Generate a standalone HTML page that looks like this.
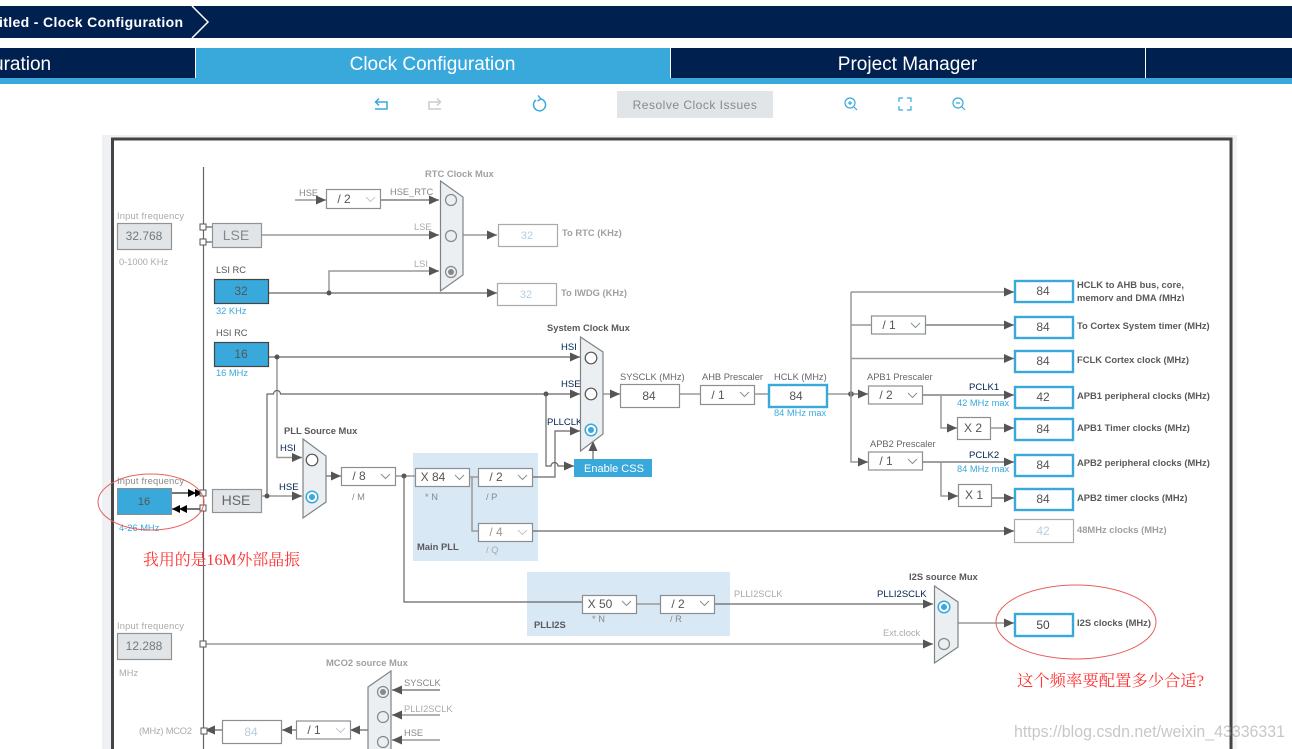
<!DOCTYPE html>
<html><head><meta charset="utf-8"><style>
html,body{margin:0;padding:0;background:#fff;width:1292px;height:749px;overflow:hidden}
svg{display:block;font-family:"Liberation Sans",sans-serif}
.l{fill:none;stroke:#666;stroke-width:1.2}
.g{fill:none;stroke:#999;stroke-width:1.5}
.a{marker-end:url(#ar)}
.box{fill:#fff;stroke:#8a8f93;stroke-width:1.2}
.bb{fill:#fff;stroke:#39a9dc;stroke-width:2.4}
.gb{fill:#fff;stroke:#aaa;stroke-width:1.2}
.mux{fill:#ebeff2;stroke:#7d8488;stroke-width:1.2}
.gr{fill:#e2e5e8;stroke:#8f9496;stroke-width:1.2}
.blue{fill:#39a9dc;stroke:#444;stroke-width:1.2}
.c{fill:#fff;stroke:#555;stroke-width:1.2}
.cg{fill:#ebeff2;stroke:#888;stroke-width:1.2}
.cb{fill:#fff;stroke:#39a9dc;stroke-width:1.5}
.sq{fill:#fff;stroke:#555;stroke-width:1}
.dot{fill:#555}
text{fill:#555;font-size:10px}
.t{font-size:12px;text-anchor:middle;fill:#555}
.tg{font-size:12px;text-anchor:middle;fill:#777}
.tl{font-size:11px;text-anchor:middle;fill:#b5cde2}
.b{font-weight:bold;fill:#59595b;font-size:9.4px}
.bg{font-weight:bold;fill:#a0a0a0;font-size:9.4px}
.s{fill:#888;font-size:9.3px}
.sl{fill:#aaa;font-size:9.3px}
.n{fill:#00214f;font-size:9.5px}
.u{fill:#39a9dc;font-size:9.3px}
.r{fill:#f33;font-size:16px;font-family:"Liberation Serif","Noto Serif CJK SC",serif}
</style></head><body>
<svg width="1292" height="749" viewBox="0 0 1292 749" xmlns="http://www.w3.org/2000/svg">
<defs>
<marker id="ar" markerUnits="userSpaceOnUse" markerWidth="11" markerHeight="9" refX="10" refY="4.5" orient="auto"><path d="M0 0L10 4.5L0 9Z" fill="#555"/></marker>
<path id="chev" d="M0 0L4.5 4.5L9 0" fill="none" stroke="#8a8f93" stroke-width="1"/>
<path id="chevl" d="M0 0L4.5 4.5L9 0" fill="none" stroke="#c5c9cc" stroke-width="1"/>
<clipPath id="clipm"><rect x="1075" y="280" width="120" height="21"/></clipPath>
</defs>

<!-- top bars -->
<rect x="0" y="6" width="1292" height="32" fill="#00214f"/>
<path d="M192 6L208 22L192 38" fill="none" stroke="#fff" stroke-width="1.5"/>
<text x="-1" y="27" style="fill:#fff;font-size:14px;font-weight:bold;letter-spacing:.35px">itled - Clock Configuration</text>
<rect x="0" y="48" width="1292" height="31" fill="#00214f"/>
<rect x="196" y="48" width="474" height="31" fill="#39a9dc"/>
<rect x="195" y="48" width="1" height="31" fill="#fff"/>
<rect x="670" y="48" width="1" height="31" fill="#fff"/>
<rect x="1145" y="48" width="1" height="31" fill="#fff"/>
<rect x="0" y="78" width="1292" height="6" fill="#39a9dc"/>
<text x="-7" y="70" style="fill:#fff;font-size:19px">uration</text>
<text x="432.500" y="70" style="fill:#fff;font-size:19px;text-anchor:middle">Clock Configuration</text>
<text x="907.500" y="70" style="fill:#fff;font-size:19px;text-anchor:middle">Project Manager</text>

<!-- toolbar -->
<path d="M375 109H387V102H376M379 98.500L375.500 102L379 105.500" fill="none" stroke="#39a9dc" stroke-width="1.5"/>
<path d="M441 109H429V102H440M437 98.500L440.500 102L437 105.500" fill="none" stroke="#ccc" stroke-width="1.5"/>
<path d="M536 100A6 6 0 1 0 541 99M538 95.500L541 99L537.500 101" fill="none" stroke="#39a9dc" stroke-width="1.5"/>
<rect x="617" y="91" width="156" height="27" fill="#e2e5e8"/>
<text x="695" y="109" style="fill:#888;font-size:12px;text-anchor:middle;letter-spacing:.5px">Resolve Clock Issues</text>
<circle cx="850" cy="103" r="5" fill="none" stroke="#39a9dc" stroke-width="1.2"/><path d="M854 107L857 110M848 103H852M850 101V105" stroke="#39a9dc" stroke-width="1.2"/>
<path d="M899 102V98H903M907 98H911V102M911 106V110H907M903 110H899V106" fill="none" stroke="#39a9dc" stroke-width="1.2"/>
<circle cx="958" cy="103" r="5" fill="none" stroke="#39a9dc" stroke-width="1.2"/><path d="M962 107L965 110M956 103H960" stroke="#39a9dc" stroke-width="1.2"/>

<!-- panel -->
<rect x="102" y="135" width="1135" height="614" fill="#eef0f3"/>
<rect x="112.500" y="139" width="1118.500" height="620" fill="#fff" stroke="#444" stroke-width="3"/>
<rect x="1233" y="141" width="4" height="608" fill="#f4f5f7"/>

<!-- blue backgrounds -->
<rect x="413" y="453" width="125" height="108" fill="#d9e8f5"/>
<rect x="527" y="572" width="203" height="64" fill="#d9e8f5"/>

<!-- vertical rail -->
<path d="M203.500 167V749" class="l"/>

<!-- wires: RTC -->
<path d="M295 200H326" class="g a"/>
<path d="M381 200H439" class="l a"/>
<path d="M262 235H439" class="g a"/>
<path d="M329 293V271H439" class="g a"/>
<path d="M269 293H497" class="l a"/>
<path d="M463 235H497" class="g a"/>
<circle cx="329" cy="293" r="2.500" class="dot"/>
<path d="M203 227H212M203 242H212" class="l"/>

<!-- wires: HSI/HSE -->
<path d="M269 357H580" class="l a"/>
<path d="M277 357V391" class="g"/>
<path d="M277 398V457.500H302" class="g a"/>
<path d="M267 496V394H273.500A3.500 3.500 0 0 1 280.500 394H580" class="l a"/>
<path d="M277 391V398" class="g"/>
<circle cx="277" cy="357" r="2.500" class="dot"/>
<circle cx="546" cy="394" r="2.500" class="dot"/>
<path d="M262 496H302" class="g a"/>
<circle cx="267" cy="496" r="2.500" class="dot"/>
<path d="M546 394V466H551A3.500 3.500 0 0 1 558 466H574" class="l a"/>
<path d="M532 477H555V431H580" class="l a"/>
<path d="M593 459V441" class="l a"/>

<!-- wires: PLL -->
<path d="M326 476H341" class="l a"/>
<path d="M395 476H415" class="g"/>
<circle cx="404" cy="476" r="2.500" class="dot"/>
<path d="M469 477H478" class="g"/>
<path d="M472 477V531H478" class="g"/>
<path d="M532 531H1014" class="l a"/>
<path d="M404 476V602H582" class="l"/>
<path d="M637 604H660" class="g"/>
<path d="M715 604H933" class="l a"/>
<path d="M203 644H933" class="g a"/>
<path d="M958 623H1014" class="g a"/>

<!-- wires: sys -->
<path d="M603 394H620" class="g a"/>
<path d="M679 394H701M754 394H768M826 394H851" class="g"/>
<circle cx="851" cy="394" r="2.800" class="dot"/>
<path d="M851 394H868" class="l a"/>
<path d="M851 292V462H868" class="g a"/>
<path d="M851 292H1014" class="g a"/>
<path d="M851 325H871" class="g"/>
<path d="M925 325H1014" class="l a"/>
<path d="M851 358.500H1014" class="g a"/>
<path d="M922 395H1014" class="l a"/>
<path d="M941 395V428H957" class="g a"/>
<path d="M990 428H1014" class="g a"/>
<path d="M922 462H1014" class="l a"/>
<path d="M941 462V496H958" class="g a"/>
<path d="M991 498H1014" class="l a"/>

<!-- wires: MCO2 -->
<path d="M440 690H392" class="l a"/>
<path d="M440 715H392" class="g a"/>
<path d="M440 740H392" class="g a"/>
<path d="M368 730H350" class="l a"/>
<path d="M296 730H282" class="l a"/>
<path d="M222 730H205" class="l a"/>
<path d="M215 730H205" class="l a"/>

<!-- black double arrows -->
<path d="M172 493H201M172 509H201" stroke="#222" stroke-width="1.2" fill="none"/>
<path d="M188 489L196 493L188 497ZM195 489L203 493L195 497ZM172 509L180 505V513ZM179 509L187 505V513Z" fill="#000"/>

<!-- squares -->
<rect x="200" y="224" width="6" height="6" class="sq"/>
<rect x="200" y="239" width="6" height="6" class="sq"/>
<rect x="200" y="490" width="6" height="6" class="sq"/>
<rect x="200" y="505" width="6" height="6" class="sq"/>
<rect x="200" y="641" width="6" height="6" class="sq"/>
<rect x="201" y="728" width="6" height="6" class="sq"/>

<!-- left source blocks -->
<text x="117" y="219" class="sl" textLength="67">Input frequency</text>
<rect x="117.500" y="223.500" width="54" height="26" class="gr"/>
<text x="144" y="240" class="tg">32.768</text>
<text x="119" y="265" class="sl">0-1000 KHz</text>
<rect x="212.500" y="223.500" width="49" height="24" class="gr"/>
<text x="236" y="240" style="font-size:14px;text-anchor:middle;fill:#888">LSE</text>
<text x="216" y="273" class="s" style="fill:#555">LSI RC</text>
<rect x="214.500" y="279.500" width="54" height="24" class="blue"/>
<text x="241" y="295" class="t">32</text>
<text x="216" y="314" class="u">32 KHz</text>
<text x="216" y="336" class="s" style="fill:#555">HSI RC</text>
<rect x="214.500" y="342.500" width="54" height="24" class="blue"/>
<text x="241" y="358" class="t">16</text>
<text x="216" y="376" class="u">16 MHz</text>
<text x="117" y="484" class="s" textLength="67">Input frequency</text>
<rect x="117.500" y="488.500" width="54" height="26" fill="#39a9dc" stroke="#8a8f93"/>
<text x="144" y="505" style="font-size:11px;text-anchor:middle;fill:#555">16</text>
<text x="119" y="531" class="u">4-26 MHz</text>
<rect x="212.500" y="489.500" width="49" height="23" class="gr"/>
<text x="236" y="505" style="font-size:14px;text-anchor:middle;fill:#666">HSE</text>
<text x="117" y="629" class="sl" textLength="67">Input frequency</text>
<rect x="117.500" y="633.500" width="54" height="26" class="gr"/>
<text x="144" y="650" class="tg">12.288</text>
<text x="119" y="676" class="sl">MHz</text>

<!-- RTC -->
<text x="425" y="177" class="bg">RTC Clock Mux</text>
<text x="299" y="196" class="s">HSE</text>
<rect x="326.500" y="189.500" width="54" height="19" class="box"/>
<text x="344" y="203" class="t">/ 2</text>
<use href="#chevl" x="366" y="197"/>
<text x="390" y="195" class="s">HSE_RTC</text>
<text x="414" y="230" class="sl">LSE</text>
<text x="414" y="267" class="sl">LSI</text>
<polygon points="440.500,181 463,197 463,275 440.500,291" class="mux"/>
<circle cx="451" cy="200" r="5.500" class="cg"/>
<circle cx="451" cy="236" r="5.500" class="cg"/>
<circle cx="451" cy="272" r="5.500" class="cg"/><circle cx="451" cy="272" r="3" fill="#888"/>
<rect x="498.500" y="224.500" width="59" height="22" class="gb"/>
<text x="527" y="239" class="tl">32</text>
<text x="562" y="236" class="bg">To RTC (KHz)</text>
<rect x="497.500" y="283.500" width="59" height="22" class="gb"/>
<text x="526" y="298" class="tl">32</text>
<text x="561" y="296" class="bg">To IWDG (KHz)</text>

<!-- PLL source -->
<text x="284" y="434" class="b">PLL  Source Mux</text>
<text x="280" y="451" class="n">HSI</text>
<text x="279" y="490" class="n">HSE</text>
<polygon points="303,439 326,456 326,502 303,518" class="mux"/>
<circle cx="312" cy="460" r="5.800" class="c"/>
<circle cx="312" cy="497" r="5.800" class="cb"/><circle cx="312" cy="497" r="3" fill="#39a9dc"/>
<rect x="341.500" y="467.500" width="54" height="18" class="box"/>
<text x="359" y="480" class="t">/ 8</text>
<use href="#chev" x="381" y="474"/>
<text x="352" y="500" class="s">/ M</text>

<!-- Main PLL -->
<rect x="415.500" y="468.500" width="54" height="18" class="box"/>
<text x="433" y="481" class="t">X 84</text>
<use href="#chev" x="455" y="475"/>
<text x="425" y="500" class="s">* N</text>
<rect x="478.500" y="468.500" width="54" height="18" class="box"/>
<text x="496" y="481" class="t">/ 2</text>
<use href="#chev" x="518" y="475"/>
<text x="486" y="500" class="s">/ P</text>
<rect x="478.500" y="523.500" width="54" height="18" class="box"/>
<text x="496" y="536" class="tg" style="fill:#999">/ 4</text>
<use href="#chevl" x="518" y="530"/>
<text x="486" y="553" class="sl">/ Q</text>
<text x="417" y="550" class="b">Main PLL</text>

<!-- PLLI2S -->
<rect x="582.500" y="595.500" width="54" height="18" class="box"/>
<text x="600" y="608" class="t">X 50</text>
<use href="#chev" x="622" y="601"/>
<text x="592" y="622" class="s">* N</text>
<rect x="660.500" y="595.500" width="54" height="18" class="box"/>
<text x="678" y="608" class="t">/ 2</text>
<use href="#chev" x="700" y="601"/>
<text x="670" y="622" class="s">/ R</text>
<text x="534" y="628" class="b">PLLI2S</text>
<text x="734" y="597" class="sl">PLLI2SCLK</text>
<text x="877" y="597" class="n">PLLI2SCLK</text>
<text x="883" y="636" class="sl">Ext.clock</text>
<text x="909" y="580" class="b">I2S source Mux</text>
<polygon points="934.500,586 958,602 958,647 934.500,663" class="mux"/>
<circle cx="944" cy="607" r="5.800" class="cb"/><circle cx="944" cy="607" r="3" fill="#39a9dc"/>
<circle cx="944" cy="644" r="5.500" class="cg"/>
<rect x="1015" y="614" width="58" height="22" class="bb"/>
<text x="1043" y="629" class="t" style="fill:#444">50</text>
<text x="1077" y="626" class="b">I2S clocks (MHz)</text>

<!-- System mux -->
<text x="547" y="331" class="b">System Clock Mux</text>
<text x="561" y="350" class="n">HSI</text>
<text x="561" y="387" class="n">HSE</text>
<text x="547" y="425" class="n">PLLCLK</text>
<polygon points="580.500,337 603,352 603,434 580.500,451" class="mux"/>
<circle cx="591" cy="358" r="5.800" class="c"/>
<circle cx="591" cy="394" r="5.800" class="c"/>
<circle cx="591" cy="430" r="5.800" class="cb"/><circle cx="591" cy="430" r="3" fill="#39a9dc"/>
<text x="620" y="380" class="s" style="fill:#666">SYSCLK (MHz)</text>
<rect x="620.500" y="384.500" width="59" height="23" class="box"/>
<text x="649" y="400" class="t">84</text>
<text x="702" y="380" class="s" style="fill:#666">AHB Prescaler</text>
<rect x="700.500" y="385.500" width="54" height="19" class="box"/>
<text x="718" y="399" class="t">/ 1</text>
<use href="#chev" x="740" y="392"/>
<text x="774" y="380" class="s" style="fill:#666">HCLK (MHz)</text>
<rect x="769" y="385" width="58" height="22" class="bb"/>
<text x="796" y="400" class="t">84</text>
<text x="774" y="416" class="u">84 MHz max</text>
<rect x="574" y="459" width="78" height="18" fill="#39a9dc"/>
<text x="584" y="472" style="fill:#fff;font-size:11px">Enable CSS</text>

<!-- right side -->
<rect x="871.500" y="316" width="54" height="18" class="box"/>
<text x="889" y="329" class="t">/ 1</text>
<use href="#chev" x="911" y="323"/>
<text x="867" y="380" class="s" style="fill:#666">APB1 Prescaler</text>
<rect x="868.500" y="386" width="54" height="18" class="box"/>
<text x="886" y="399" class="t">/ 2</text>
<use href="#chev" x="908" y="393"/>
<text x="870" y="447" class="s" style="fill:#666">APB2 Prescaler</text>
<rect x="868.500" y="452" width="54" height="18" class="box"/>
<text x="886" y="465" class="t">/ 1</text>
<use href="#chev" x="908" y="459"/>
<text x="969" y="390" class="n">PCLK1</text>
<text x="957" y="406" class="u">42 MHz max</text>
<text x="969" y="458" class="n">PCLK2</text>
<text x="957" y="472" class="u">84 MHz max</text>
<rect x="957.500" y="417.500" width="33" height="22" class="box"/>
<text x="973" y="432" class="t">X 2</text>
<rect x="958.500" y="484.500" width="33" height="22" class="box"/>
<text x="974" y="499" class="t">X 1</text>

<rect x="1015" y="281" width="58" height="21" class="bb"/><text x="1043" y="295" class="t">84</text>
<rect x="1015" y="317" width="58" height="21" class="bb"/><text x="1043" y="331" class="t">84</text>
<rect x="1015" y="351" width="58" height="21" class="bb"/><text x="1043" y="365" class="t">84</text>
<rect x="1015" y="387" width="58" height="21" class="bb"/><text x="1043" y="401" class="t">42</text>
<rect x="1015" y="419" width="58" height="21" class="bb"/><text x="1043" y="433" class="t">84</text>
<rect x="1015" y="455" width="58" height="21" class="bb"/><text x="1043" y="469" class="t">84</text>
<rect x="1015" y="489" width="58" height="21" class="bb"/><text x="1043" y="503" class="t">84</text>
<rect x="1014.500" y="519.500" width="59" height="23" class="gb"/><text x="1043" y="535" class="tl" style="font-size:12px">42</text>

<text x="1077" y="288" class="b">HCLK to AHB bus, core,</text>
<g clip-path="url(#clipm)"><text x="1077" y="301" class="b">memory and DMA (MHz)</text></g>
<text x="1077" y="329" class="b">To Cortex System timer (MHz)</text>
<text x="1077" y="363" class="b">FCLK Cortex clock (MHz)</text>
<text x="1077" y="399" class="b">APB1 peripheral clocks (MHz)</text>
<text x="1077" y="431" class="b">APB1 Timer clocks (MHz)</text>
<text x="1077" y="466" class="b">APB2 peripheral clocks (MHz)</text>
<text x="1077" y="501" class="b">APB2 timer clocks (MHz)</text>
<text x="1077" y="533" class="bg">48MHz clocks (MHz)</text>

<!-- MCO2 -->
<text x="326" y="666" class="bg">MCO2 source Mux</text>
<polygon points="368,687 391,671 391,760 368,760" class="mux"/>
<circle cx="383" cy="692" r="5.500" class="cg"/><circle cx="383" cy="692" r="3" fill="#888"/>
<circle cx="383" cy="717" r="5.500" class="cg"/>
<circle cx="383" cy="742" r="5.500" class="cg"/>
<text x="404" y="686" class="s">SYSCLK</text>
<text x="404" y="712" class="sl">PLLI2SCLK</text>
<text x="404" y="736" class="s">HSE</text>
<rect x="296.500" y="721" width="54" height="18" class="box"/>
<text x="314" y="734" class="t">/ 1</text>
<use href="#chevl" x="336" y="728"/>
<rect x="222.500" y="720.500" width="59" height="23" class="box"/>
<text x="251" y="736" class="tl" style="font-size:12px">84</text>
<text x="139" y="734" class="sl" textLength="53">(MHz) MCO2</text>

<!-- annotations -->
<ellipse cx="151" cy="502" rx="53" ry="28" fill="none" stroke="#e8605f" stroke-width="1"/>
<ellipse cx="1076" cy="622" rx="80" ry="37" fill="none" stroke="#e8605f" stroke-width="1"/>
<text x="143" y="565" class="r" textLength="157" lengthAdjust="spacingAndGlyphs">我用的是16M外部晶振</text>
<text x="1017" y="686" class="r" textLength="187" lengthAdjust="spacingAndGlyphs">这个频率要配置多少合适?</text>
<text x="1014" y="737" style="fill:#9a9a9a;opacity:.55;font-size:17px" textLength="271" lengthAdjust="spacingAndGlyphs">https://blog.csdn.net/weixin_43336331</text>
</svg>
</body></html>
